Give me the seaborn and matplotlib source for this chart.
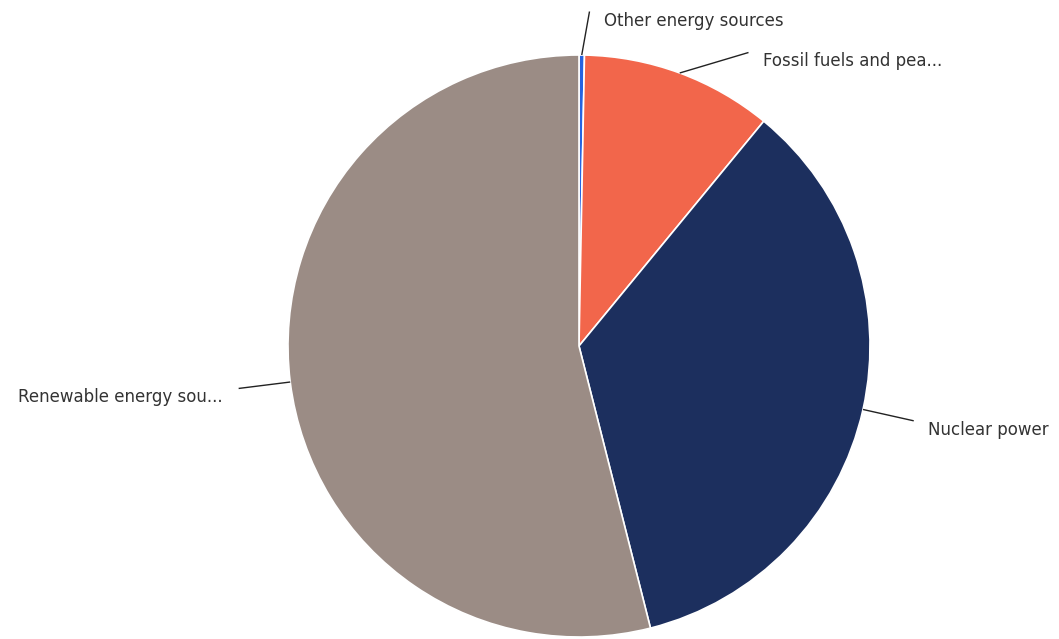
import numpy as np
import matplotlib
matplotlib.use("Agg")
import matplotlib.pyplot as plt
import seaborn as sns

# Share of energy sources (%)
categories = ["Other energy sources", "Fossil fuels and pea...", "Nuclear power", "Renewable energy sou..."]
shares = [0.3, 10.65, 35.1, 53.95]
colors = ["#2563e0", "#f2664b", "#1c2f5e", "#9b8c85"]

sns.set_theme(style="white")
plt.rcParams["font.family"] = ["DejaVu Sans"]

W, H = 1059, 639
fig = plt.figure(figsize=(W / 100, H / 100), dpi=100)
ax = fig.add_axes([0, 0, 1, 1])

# pie centre and radius in pixels
cx, cy, R = 579, 346, 291

ax.pie(shares, colors=colors, startangle=90, counterclock=False, radius=1,
       wedgeprops=dict(edgecolor="white", linewidth=1.2))
ax.set_xlim(-cx / R, (W - cx) / R)
ax.set_ylim(-(H - cy) / R, cy / R)
ax.set_aspect("auto")
ax.axis("off")

# leader lines: radial by default, nudged for the crowded top labels
ends_px = {0: (589.5, 11.5), 1: (748.5, 52.5)}
cum = np.cumsum([0] + shares[:-1])
total = sum(shares)
for i, (name, s) in enumerate(zip(categories, shares)):
    theta = np.deg2rad((cum[i] + s / 2) / total * 360)
    px, py = np.sin(theta), np.cos(theta)
    if i in ends_px:
        ex = (ends_px[i][0] - cx) / R
        ey = (cy - ends_px[i][1]) / R
    else:
        ex, ey = px * (1 + 52 / R), py * (1 + 52 / R)
    ax.plot([px, ex], [py, ey], color="#222222", lw=1.0, solid_capstyle="butt")
    right = ex >= 0
    ax.annotate(name, xy=(ex, ey), xytext=(14 if right else -16, -9),
                textcoords="offset pixels", ha="left" if right else "right",
                va="center", fontsize=12, color="#333333")

fig.savefig("out.png", dpi=100)
